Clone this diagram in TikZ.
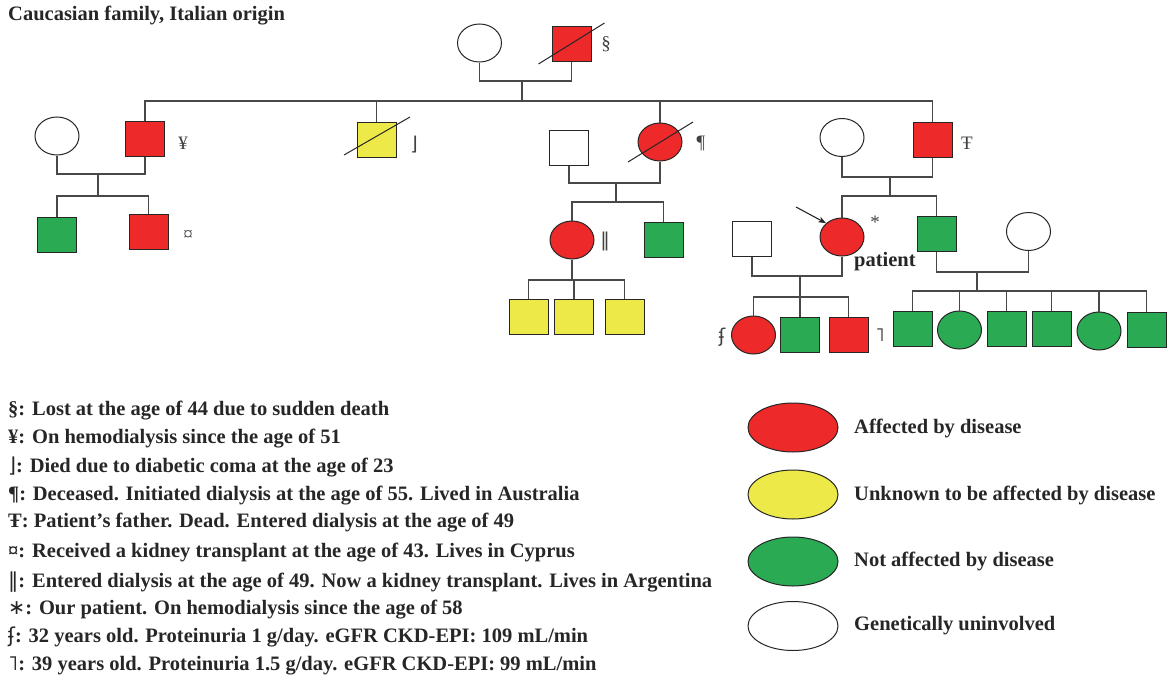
\documentclass[tikz,border=0pt]{standalone}
\usepackage{fontspec}
\setmainfont{Liberation Serif}
\newfontfamily\symf{DejaVu Sans}
\usetikzlibrary{shapes.geometric,arrows.meta}
\definecolor{affred}{RGB}{237,41,41}
\definecolor{unkyel}{RGB}{237,233,72}
\definecolor{naegreen}{RGB}{43,170,84}
\definecolor{lgray}{RGB}{72,72,72}
\tikzset{
  sq/.style={rectangle, draw=black!85, line width=1pt, minimum width=39pt, minimum height=35pt, inner sep=0pt},
  el/.style={ellipse, draw=black!85, line width=1pt, minimum width=44pt, minimum height=38pt, inner sep=0pt},
  aff/.style={fill=affred},
  unk/.style={fill=unkyel},
  nae/.style={fill=naegreen},
  gen/.style={fill=white},
  pl/.style={draw=lgray, line width=1.3pt},
  slashline/.style={draw=black!85, line width=1pt},
  symlbl/.style={font=\fontsize{19}{19}\selectfont, text=black!75, inner sep=0pt},
  legtxt/.style={font=\bfseries\fontsize{20.5}{22}\selectfont, text=black!85, anchor=west, inner sep=0pt},
  legel/.style={ellipse, draw=black!85, line width=1pt, minimum width=90pt, minimum height=49pt, inner sep=0pt}
}
\begin{document}
\begin{tikzpicture}[x=1pt,y=-1pt]
\useasboundingbox (0,0) rectangle (1167,680);

\node[legtxt] (title) at (8,16) {Caucasian family, Italian origin};

% ---------- generation I
\node[el,gen] (g1f) at (479.5,43) {};
\node[sq,aff] (g1m) at (571.5,43.5) {};
\draw[slashline] (g1m.center) ++(-33,20.5) -- ++(66,-41);
\node[symlbl] (m1) at (606,44) {§};
\coordinate (c1) at (522,81);
\coordinate (s1) at (522,101);
\draw[pl] (g1f.south) |- (c1) -| (g1m.south);
\draw[pl] (c1) -- (s1);

% ---------- generation II
\node[el,gen] (g2aw) at (57,136) {};
\node[sq,aff] (g2a) at (145,138.5) {};
\node[symlbl] (m2) at (183,143) {¥};
\node[sq,unk] (g2b) at (376.5,139.5) {};
\draw[slashline] (g2b.center) ++(-32.5,15.5) -- ++(66,-38);
\node[symlbl] (m3) at (414,145) {\symf ⌋};
\node[sq,gen] (g2ch) at (569,148) {};
\node[el,aff] (g2c) at (660,142) {};
\draw[slashline] (g2c.center) ++(-32,20) -- ++(65,-40);
\node[symlbl] (m4) at (701,143) {¶};
\node[el,gen] (g2dw) at (842,137.5) {};
\node[sq,aff] (g2d) at (932.5,139.5) {};
\node[symlbl] (m5) at (967,143) {Ŧ};

\draw[pl] (g2a.north) |- (s1) -| (g2d.north);
\draw[pl] (g2b.north) -- (g2b.north |- s1);
\draw[pl] (g2c.north) -- (g2c.north |- s1);

% ---------- family of g2a
\coordinate (c2a) at (98,174);
\coordinate (s2a) at (98,196);
\draw[pl] (g2aw.south) |- (c2a) -| (g2a.south);
\draw[pl] (c2a) -- (s2a);
\node[sq,nae] (g3a) at (57,234.5) {};
\node[sq,aff] (g3b) at (148.5,232) {};
\node[symlbl] (m6) at (188,235) {¤};
\draw[pl] (g3a.north) |- (s2a) -| (g3b.north);

% ---------- family of g2c
\coordinate (c2c) at (616,183);
\coordinate (s2c) at (616,202);
\draw[pl] (g2ch.south) |- (c2c) -| (g2c.south);
\draw[pl] (c2c) -- (s2c);
\node[el,aff] (g3c) at (572,240) {};
\node[symlbl] (m7) at (605,241) {\symf ‖};
\node[sq,nae] (g3d) at (663.5,240) {};
\draw[pl] (g3c.north) |- (s2c) -| (g3d.north);
\coordinate (s3c) at (572,280);
\draw[pl] (g3c.south) -- (s3c);
\node[sq,unk] (g4a) at (528.5,316.5) {};
\node[sq,unk] (g4b) at (574,316.5) {};
\node[sq,unk] (g4c) at (624.5,316.5) {};
\draw[pl] (g4a.north) |- (s3c) -| (g4c.north);
\draw[pl] (g4b.north) -- (g4b.north |- s3c);

% ---------- family of g2d
\coordinate (c2d) at (890,177);
\coordinate (s2d) at (890,196);
\draw[pl] (g2dw.south) |- (c2d) -| (g2d.south);
\draw[pl] (c2d) -- (s2d);
\node[el,aff] (pat) at (842,237) {};
\node[sq,nae] (g3f) at (936.5,233.5) {};
\draw[pl] (pat.north) |- (s2d) -| (g3f.north);
\coordinate (arrtail) at (796,207);
\draw[-{Stealth[length=8pt,width=6pt]}, line width=1.1pt, black!85] (arrtail) -- (pat.north west);
\node[symlbl] (m8) at (875,222) {*};
\node[legtxt] (plab) at (854,262) {patient};

% patient's family
\node[sq,gen] (hus) at (752,238.5) {};
\coordinate (c3e) at (800,276);
\coordinate (s3e) at (800,297);
\draw[pl] (hus.south) |- (c3e) -| (pat.south);
\draw[pl] (c3e) -- (s3e);
\node[el,aff] (g4d) at (753.5,335) {};
\node[sq,nae] (g4e) at (800,334.5) {};
\node[sq,aff] (g4f) at (848.5,335) {};
\node[symlbl] (m9) at (722,337) {\symf ʄ};
\node[symlbl] (m10) at (880,335) {\symf ˥};
\draw[pl] (g4d.north) |- (s3e) -| (g4f.north);
\draw[pl] (g4e.north) -- (g4e.north |- s3e);

% brother's family
\node[el,gen] (bw) at (1028.5,231.5) {};
\coordinate (c3f) at (977,272);
\coordinate (s3f) at (977,291);
\draw[pl] (g3f.south) |- (c3f) -| (bw.south);
\draw[pl] (c3f) -- (s3f);
\node[sq,nae] (k1) at (912.5,328.5) {};
\node[el,nae] (k2) at (959.5,330) {};
\node[sq,nae] (k3) at (1006.5,328.5) {};
\node[sq,nae] (k4) at (1051.5,328.5) {};
\node[el,nae] (k5) at (1099,331) {};
\node[sq,nae] (k6) at (1146.5,329.5) {};
\draw[pl] (k1.north) |- (s3f) -| (k6.north);
\foreach \k in {k2,k3,k4,k5} \draw[pl] (\k.north) -- (\k.north |- s3f);

% ---------- legend (symbols)
\node[legtxt] (t1) at (8,411) {§: Lost at the age of 44 due to sudden death};
\node[legtxt] (t2) at (8,439) {¥: On hemodialysis since the age of 51};
\node[legtxt] (t3) at (8,467) {{\symf\mdseries ⌋}: Died due to diabetic coma at the age of 23};
\node[legtxt] (t4) at (8,496) {¶: Deceased. Initiated dialysis at the age of 55. Lived in Australia};
\node[legtxt] (t5) at (8,523) {Ŧ: Patient’s father. Dead. Entered dialysis at the age of 49};
\node[legtxt] (t6) at (8,553) {¤: Received a kidney transplant at the age of 43. Lives in Cyprus};
\node[legtxt] (t7) at (8,582) {{\symf\mdseries ‖}: Entered dialysis at the age of 49. Now a kidney transplant. Lives in Argentina};
\node[legtxt] (t8) at (8,610) {{\symf\mdseries ∗}: Our patient. On hemodialysis since the age of 58};
\node[legtxt] (t9) at (8,637) {{\symf\mdseries ʄ}: 32 years old. Proteinuria 1 g/day. eGFR CKD-EPI: 109 mL/min};
\node[legtxt] (t10) at (8,666) {{\symf\mdseries ˥}: 39 years old. Proteinuria 1.5 g/day. eGFR CKD-EPI: 99 mL/min};

% ---------- legend (colours)
\node[legel,aff] (e1) at (793,427.5) {};
\node[legtxt] (et1) at (854,428) {Affected by disease};
\node[legel,unk] (e2) at (793,494.5) {};
\node[legtxt] (et2) at (854,495) {Unknown to be affected by disease};
\node[legel,nae] (e3) at (793,561.5) {};
\node[legtxt] (et3) at (854,561) {Not affected by disease};
\node[legel,gen] (e4) at (793,626) {};
\node[legtxt] (et4) at (854,626) {Genetically uninvolved};
\end{tikzpicture}
\end{document}
